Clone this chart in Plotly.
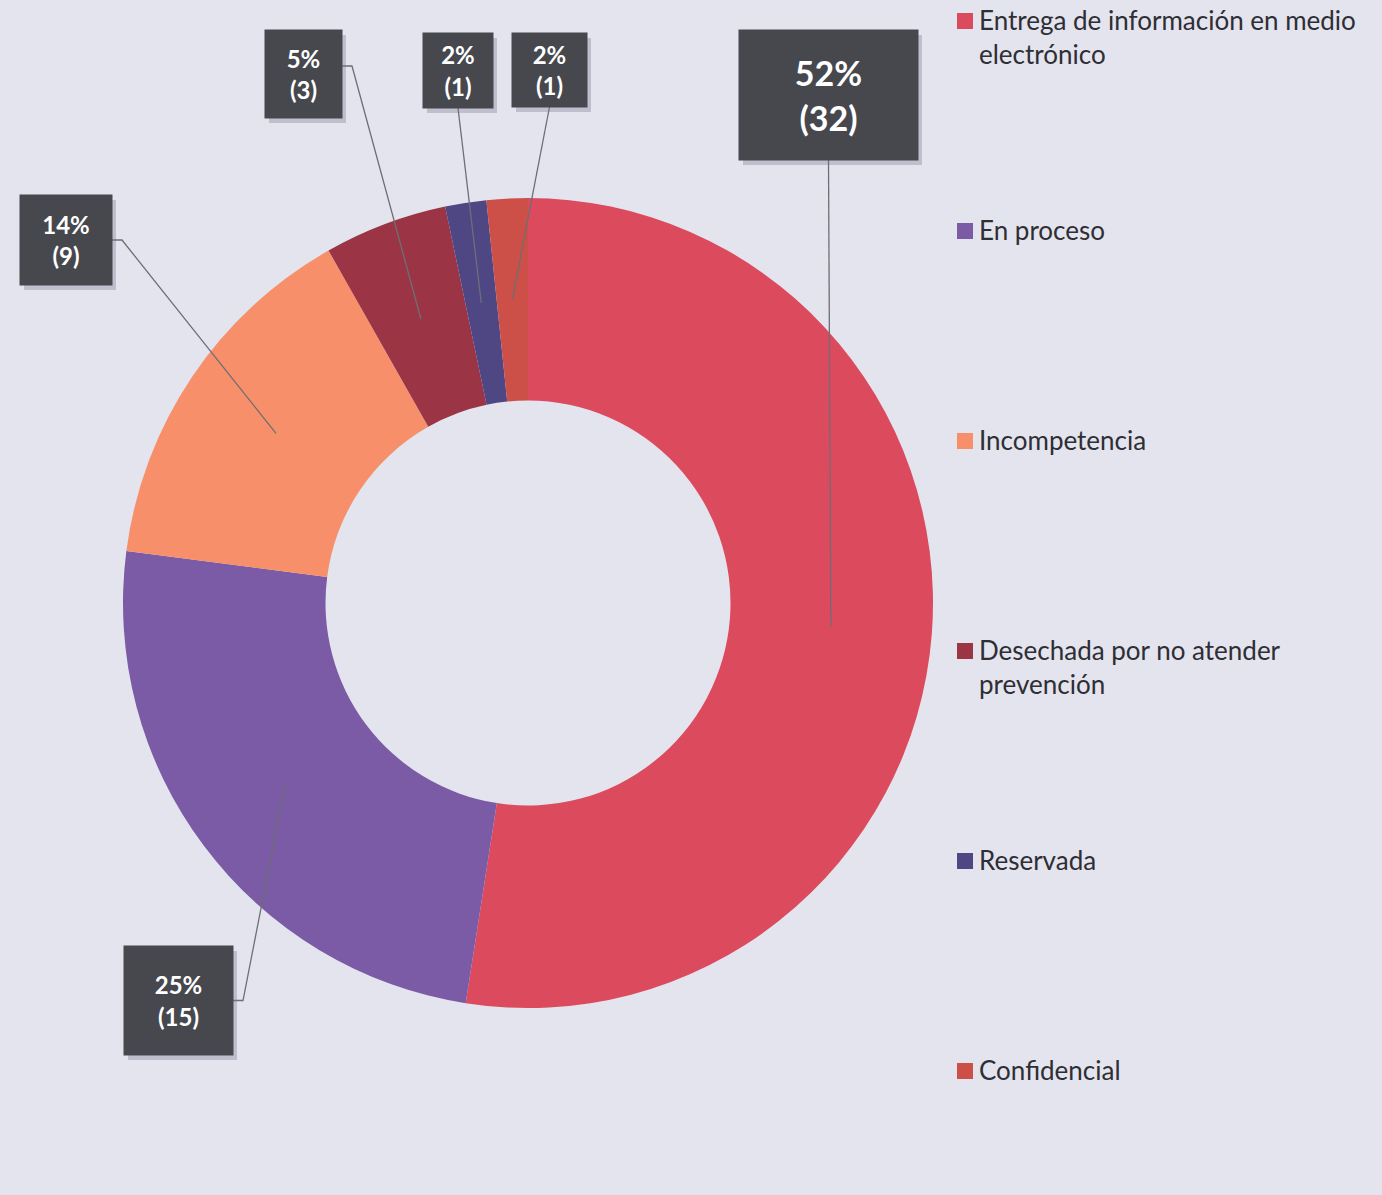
import math
import plotly.graph_objects as go

# ---- data ----
categories = ["Entrega de información en medio electrónico", "En proceso", "Incompetencia",
              "Desechada por no atender prevención", "Reservada", "Confidencial"]
legend_labels = ["Entrega de información en medio<br>electrónico", "En proceso", "Incompetencia",
                 "Desechada por no atender<br>prevención", "Reservada", "Confidencial"]
counts = [32, 15, 9, 3, 1, 1]
percent_labels = ["52%", "25%", "14%", "5%", "2%", "2%"]
colors = ["#dc4a5e", "#7b5aa6", "#f7906a", "#9b3545", "#4f4684", "#cc5048"]

W, H = 1382, 1195
BG = "#e3e4ee"
BOX = "#46484e"
FONT = "Lato, 'Open Sans', sans-serif"

# pie geometry (pixels)
cx, cy, R = 528, 603, 405
hole = 0.5

def px(x):
    return x / W

def py(y):
    return 1 - y / H

fig = go.Figure(go.Pie(
    labels=categories, values=counts, sort=False, direction="clockwise", rotation=0,
    hole=hole, textinfo="none", hoverinfo="label+value+percent",
    marker=dict(colors=colors, line=dict(width=0)),
    domain=dict(x=[px(cx - R), px(cx + R)], y=[py(cy + R), py(cy - R)]),
    showlegend=False,
))

# label boxes (pixel rectangles: x0, y0, x1, y1), font size, leader start side
boxes = [
    ((739, 30, 918, 160), 34, "bottom"),
    ((124, 946, 233, 1055), 24, "right"),
    ((20, 195, 112, 285), 24, "right"),
    ((265, 30, 342, 118), 24, "right"),
    ((423, 33, 493, 108), 24, "bottom"),
    ((512, 33, 587, 107), 24, "bottom"),
]

total = sum(counts)
cum = 0
shapes = []
annotations = []
r_mid = R * (1 + hole) / 2
for i, v in enumerate(counts):
    mid = (cum + v / 2) / total * 2 * math.pi
    cum += v
    hx = cx + r_mid * math.sin(mid)
    hy = cy - r_mid * math.cos(mid)
    (x0, y0, x1, y1), fs, side = boxes[i]
    if side == "bottom":
        sx, sy = (x0 + x1) / 2, y1
        path = f"M {px(sx)} {py(sy)} L {px(hx)} {py(hy)}"
    else:
        sx, sy = x1, (y0 + y1) / 2 - (8 if i == 3 else 0)
        ex = sx + 10
        path = f"M {px(sx)} {py(sy)} L {px(ex)} {py(sy)} L {px(hx)} {py(hy)}"
    shapes.append(dict(type="path", xref="paper", yref="paper", path=path,
                       line=dict(color="#6e6e74", width=1.3), layer="above"))
    # shadow
    shapes.append(dict(type="rect", xref="paper", yref="paper",
                       x0=px(x0 + 4), x1=px(x1 + 4), y0=py(y1 + 5), y1=py(y0 + 5),
                       fillcolor="rgba(120,120,140,0.35)", line=dict(width=0), layer="above"))
    annotations.append(dict(
        xref="paper", yref="paper", x=px((x0 + x1) / 2), y=py((y0 + y1) / 2),
        xanchor="center", yanchor="middle", showarrow=False,
        text=f"<b>{percent_labels[i]}<br>({v})</b>",
        font=dict(family=FONT, size=fs, color="white"),
        bgcolor=BOX, width=x1 - x0, height=y1 - y0, borderpad=0, align="center",
    ))

# custom legend
legend_y = [21, 231, 441, 651, 861, 1071]
for i, lab in enumerate(legend_labels):
    y = legend_y[i]
    shapes.append(dict(type="rect", xref="paper", yref="paper",
                       x0=px(957), x1=px(973), y0=py(y + 8), y1=py(y - 8),
                       fillcolor=colors[i], line=dict(width=0)))
    annotations.append(dict(
        xref="paper", yref="paper", x=px(977), y=py(y - 19),
        xanchor="left", yanchor="top", showarrow=False, align="left",
        text=lab, font=dict(family=FONT, size=26, color="#2e2e34"),
    ))

fig.update_layout(
    width=W, height=H, margin=dict(l=0, r=0, t=0, b=0),
    paper_bgcolor=BG, plot_bgcolor=BG,
    shapes=shapes, annotations=annotations,
)

fig.write_html("out.html", config={"displayModeBar": False},
               post_script="document.body.style.margin='0px';document.body.style.overflow='hidden';")
